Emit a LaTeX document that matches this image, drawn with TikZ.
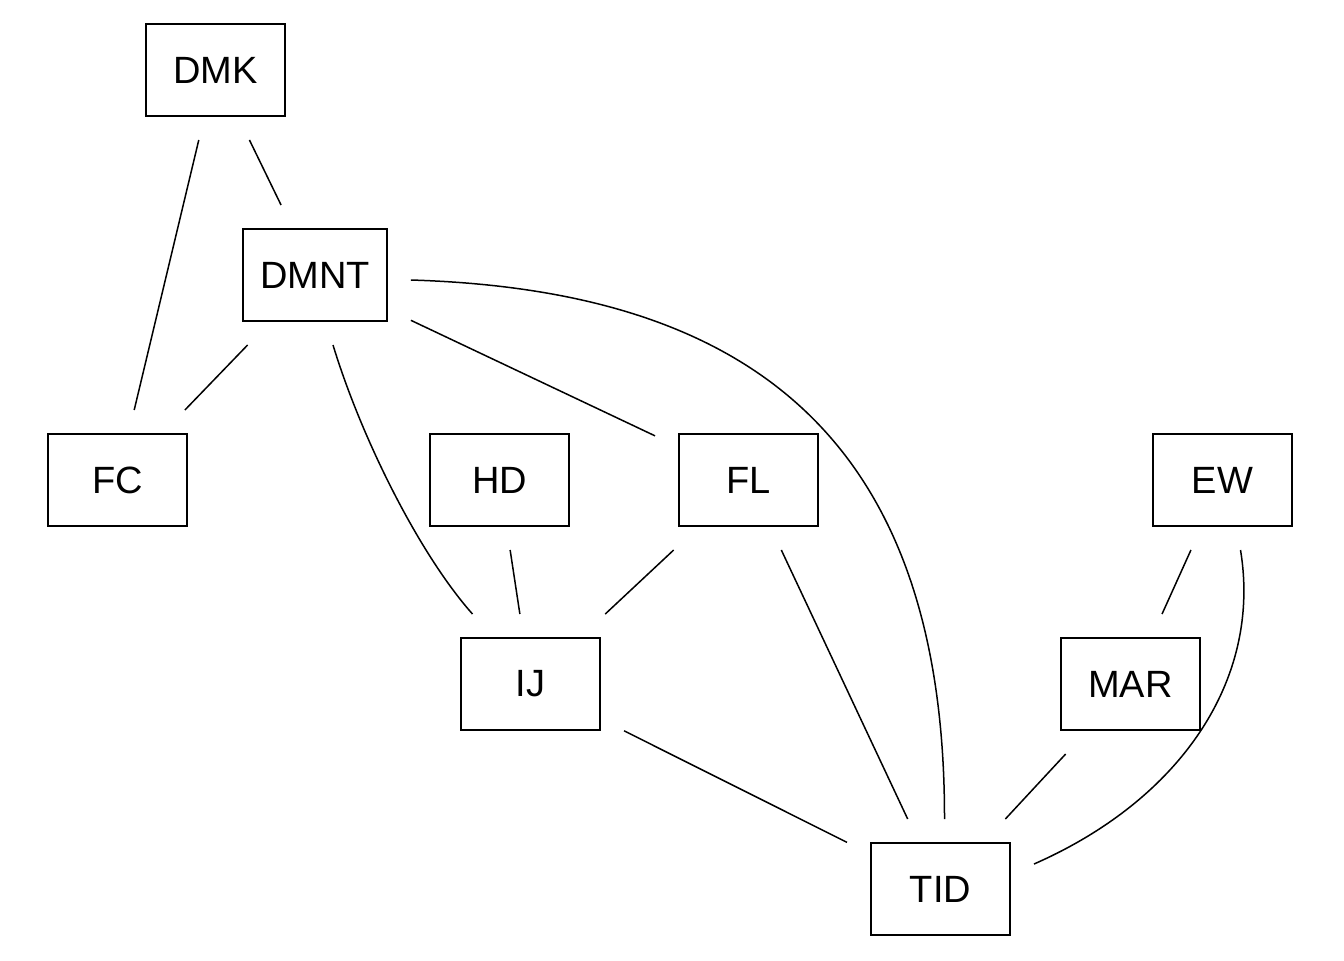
\documentclass[tikz,border=0pt]{standalone}
\usepackage{fontspec}
\setmainfont{Liberation Sans}
\usepackage{tikz}
\tikzset{
  ed/.style={line width=0.75pt,black}
}

\begin{document}
\begin{tikzpicture}[x=0.5pt,y=-0.5pt,
  nd/.style={draw,line width=0.75pt,minimum width=69.5pt,minimum height=46pt,
    inner xsep=8.5pt,outer sep=12pt,font=\fontsize{19}{22}\selectfont}]
\useasboundingbox (0,0) rectangle (1344,960);
\node[nd] (DMK) at (215.5,70) {DMK};
\node[nd] (DMNT) at (315,275) {DMNT};
\node[nd] (FC) at (117.5,480) {FC};
\node[nd] (HD) at (499.5,480) {HD};
\node[nd] (FL) at (748.5,480) {FL};
\node[nd] (EW) at (1222.5,480) {EW};
\node[nd] (IJ) at (530.5,684) {IJ};
\node[nd] (MAR) at (1130.5,684) {MAR};
\node[nd] (TID) at (940.5,889) {TID};
\draw[ed] (DMK)--(FC) (DMK)--(DMNT) (DMNT)--(FC) (DMNT)--(FL)
  (HD)--(IJ) (FL)--(IJ) (FL)--(TID) (IJ)--(TID) (MAR)--(TID)
  (EW)--(MAR);
\draw[ed] ([yshift=-2.5pt]DMNT.east) .. controls (740,290) and (945,430) .. ([xshift=2pt]TID.north);
\draw[ed] ([xshift=9pt]DMNT.south) .. controls (362,440) and (420,555) .. ([xshift=-29pt]IJ.north);
\draw[ed] ([xshift=9pt]EW.south) .. controls (1262,680) and (1180,800) .. ([yshift=12.5pt]TID.east);
\end{tikzpicture}
\end{document}
